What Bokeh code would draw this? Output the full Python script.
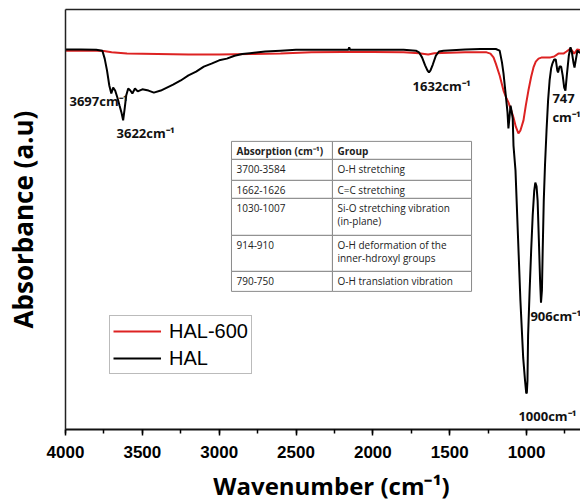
from bokeh.plotting import figure
from bokeh.layouts import column
from bokeh.models import (Range1d, SingleIntervalTicker, FixedTicker, LinearAxis,
                          Label, Legend, LegendItem)
from bokeh.embed import file_html
from bokeh.resources import INLINE
from bokeh.core.properties import value

# ---------------- data ----------------
hal_wn = [4000, 3900, 3800, 3760, 3745, 3730, 3715, 3702, 3690, 3677,
          3662, 3648, 3636, 3625, 3615, 3605, 3592, 3578, 3565, 3548,
          3530, 3500, 3460, 3425, 3380, 3340, 3300, 3250, 3200, 3150,
          3100, 3050, 3000, 2950, 2900, 2850, 2800, 2700, 2600, 2500,
          2300, 2160, 2154, 2148, 2000, 1800, 1720, 1700, 1680, 1660,
          1645, 1635, 1625, 1610, 1590, 1570, 1540, 1400, 1300, 1200,
          1175, 1160, 1150, 1135, 1124, 1118, 1110, 1104, 1096, 1090,
          1085, 1072, 1056, 1040, 1022, 1010, 1002, 998, 994, 990,
          980, 970, 960, 950, 943, 935, 928, 920, 912, 906,
          900, 895, 888, 880, 870, 860, 850, 840, 832, 820,
          810, 800, 795, 785, 775, 765, 755, 747, 738, 725,
          714, 705, 695, 688, 680, 669, 655, 640]
hal_abs = [90.5, 90.5, 90.4, 90.2, 88.3, 85.5, 81.9, 80.0, 81.4, 80.7,
           79.0, 77.1, 75.5, 73.6, 76.4, 79.5, 81.2, 80.7, 80.0, 81.2,
           80.5, 81.0, 80.7, 80.2, 80.7, 81.4, 82.1, 83.1, 84.3, 85.2,
           86.4, 87.1, 87.9, 88.3, 89.0, 89.4, 89.6, 90.0, 90.2, 90.4,
           90.4, 90.4, 91.0, 90.4, 90.4, 90.4, 90.2, 89.8, 88.6, 86.7,
           85.5, 85.0, 85.5, 86.9, 89.0, 90.0, 90.2, 90.5, 90.6, 90.6,
           90.2, 87.4, 84.8, 79.5, 75.5, 71.7, 74.8, 77.1, 75.5, 74.0,
           67.6, 61.7, 46.2, 30.7, 17.1, 11.7, 8.6, 8.8, 11.7, 22.4,
           33.1, 42.6, 51.0, 56.9, 58.8, 57.9, 54.5, 45.2, 35.5, 30.2,
           33.1, 42.6, 54.5, 62.9, 71.2, 78.3, 83.1, 86.0, 87.1, 88.1,
           88.1, 85.5, 85.0, 86.4, 86.4, 84.3, 81.4, 80.7, 84.3, 89.0,
           91.0, 89.8, 87.4, 86.2, 87.9, 90.2, 89.8, 89.3]

hal600_wn = [4000, 3800, 3750, 3700, 3600, 3400, 3200, 3000, 2800, 2600,
             2400, 2200, 2000, 1800, 1700, 1640, 1600, 1400, 1260, 1235,
             1215, 1200, 1175, 1150, 1130, 1118, 1100, 1085, 1070, 1053,
             1040, 1020, 1005, 988, 970, 955, 940, 922, 900, 845,
             820, 793, 760, 740, 714, 690, 670, 640]
hal600_abs = [90.2, 90.2, 90.1, 89.8, 89.5, 89.4, 89.3, 89.3, 89.4, 89.5,
              89.8, 89.9, 89.9, 89.8, 89.6, 89.3, 89.6, 89.8, 89.8, 89.5,
              88.6, 87.1, 84.3, 80.7, 78.8, 77.9, 76.0, 74.3, 72.1, 70.5,
              71.2, 73.6, 77.1, 80.7, 84.0, 86.2, 87.6, 88.3, 88.6, 88.6,
              88.8, 89.5, 89.5, 90.0, 90.7, 89.5, 90.5, 90.2]

series_names = ["HAL-600", "HAL"]

table_absorption = ["Absorption (cm\u207b\u00b9)", "3700-3584", "1662-1626",
                    "1030-1007", "914-910", "790-750"]
table_group = ["Group", "O-H stretching", "C=C stretching",
               "Si-O stretching vibration\n(in-plane)",
               "O-H deformation of the\ninner-hdroxyl groups",
               "O-H translation vibration"]

x_title = "Wavenumber (cm\u207b\u00b9)"
y_title = "Absorbance (a.u)"

# ---------------- main figure ----------------
X_START, X_END = 4000, 649
MAIN_H, TITLE_H, W = 466, 36, 580
p = figure(width=W, height=MAIN_H, output_backend="svg", toolbar_location=None,
           x_range=Range1d(X_START, X_END), y_range=Range1d(0, 100),
           min_border_left=65, min_border_right=0, min_border_top=9,
           min_border_bottom=37, background_fill_color="white",
           border_fill_color="white")
p.outline_line_color = None
p.xgrid.visible = False
p.ygrid.visible = False

FONT = "Open Sans"
TICK_FONT = "Liberation Sans"
RED = "#dd2222"

r_red = p.line(hal600_wn, hal600_abs, line_color=RED, line_width=2)
r_black = p.line(hal_wn, hal_abs, line_color="black", line_width=2)

DX = (X_START - X_END) / 515.0   # wavenumber units per pixel
DY = 100.0 / 420.0               # absorbance units per pixel

# x axis
xa = p.xaxis[0]
xa.ticker = SingleIntervalTicker(interval=500, num_minor_ticks=2)
xa.axis_line_width = 2
xa.axis_line_color = "#111111"
xa.major_tick_out = 6
xa.major_tick_in = 0
xa.minor_tick_out = 4
xa.minor_tick_in = 0
xa.major_tick_line_width = 1.5
xa.minor_tick_line_width = 1.5
xa.major_label_text_font = TICK_FONT
xa.major_label_text_font_style = "bold"
xa.major_label_text_font_size = "17px"
xa.major_label_text_color = "black"
xa.major_label_standoff = 10

# y axis
ya = p.yaxis[0]
ya.ticker = FixedTicker(ticks=[])
ya.major_label_text_font_size = "0px"
ya.major_tick_out = 0
ya.minor_tick_out = 0
ya.axis_line_width = 1.5
ya.axis_line_color = "#222222"
ya.axis_label = y_title
ya.axis_label_text_font = FONT
ya.axis_label_text_font_style = "bold"
ya.axis_label_text_font_size = "26px"
ya.axis_label_text_color = "black"
ya.axis_label_standoff = 25

# top border as an empty axis
top = LinearAxis(ticker=FixedTicker(ticks=[]), major_label_text_font_size="0px",
                 major_tick_out=0, minor_tick_out=0, axis_line_width=1.5,
                 axis_line_color="#222222")
p.add_layout(top, "above")

# peak labels
def peak(x, y, t, size="13px"):
    p.add_layout(Label(x=x, y=y, text=t, text_font=FONT, text_font_style="bold",
                       text_font_size=size, text_baseline="middle",
                       text_align="left", text_color="#111111"))

peak(3974, 78.3, "3697cm\u207b\u00b9")
peak(3668, 70.5, "3622cm\u207b\u00b9")
peak(1742, 81.7, "1632cm\u207b\u00b9")
peak(832, 78.8, "747")
peak(832, 74.3, "cm\u207b\u00b9")
peak(975, 27.1, "906cm\u207b\u00b9")
peak(1053, 3.3, "1000cm\u207b\u00b9")

# table
T_LEFT, T_DIV, T_RIGHT, T_TOP = 2920, 2263, 1358, 68.6
row_px = [18, 21, 18, 37, 36, 20]

q_left, q_right, q_top, q_bot = [], [], [], []
y_cur = T_TOP
row_tops = []
for h in row_px:
    y_next = y_cur - h * DY
    row_tops.append(y_cur)
    for (a, b) in [(T_LEFT, T_DIV), (T_DIV, T_RIGHT)]:
        q_left.append(a); q_right.append(b)
        q_top.append(y_cur); q_bot.append(y_next)
    y_cur = y_next
p.quad(left=q_left, right=q_right, top=q_top, bottom=q_bot,
       fill_color="white", line_color="#8a8a8a", line_width=1)

tx, ty, tt, hx, hy, ht = [], [], [], [], [], []
for i, (c1, c2) in enumerate(zip(table_absorption, table_group)):
    for col_x, txt in [(T_LEFT - 5 * DX, c1), (T_DIV - 5 * DX, c2)]:
        for j, line in enumerate(txt.split("\n")):
            yy = row_tops[i] - (9.5 + 13 * j) * DY
            if i == 0:
                hx.append(col_x); hy.append(yy); ht.append(line)
            else:
                tx.append(col_x); ty.append(yy); tt.append(line)
p.text(x=tx, y=ty, text=tt, text_font=value(FONT), text_font_size="10px",
       text_baseline="middle", text_align="left", text_color="#222222")
p.text(x=hx, y=hy, text=ht, text_font=value(FONT), text_font_size="10px",
       text_font_style="bold", text_baseline="middle", text_align="left",
       text_color="#222222")

# legend
legend = Legend(items=[LegendItem(label=series_names[0], renderers=[r_red]),
                       LegendItem(label=series_names[1], renderers=[r_black])],
                location=(44, 55), orientation="vertical",
                label_text_font="Liberation Sans", label_text_font_size="20px",
                label_text_color="black", glyph_width=48, glyph_height=24,
                label_height=24, label_standoff=8, spacing=3, padding=3,
                margin=0, border_line_color="#777777", border_line_width=1,
                background_fill_color="white", background_fill_alpha=1)
p.add_layout(legend)

# ---------------- x-axis title strip (shares the wavenumber scale) ----------------
pt = figure(width=W, height=TITLE_H, output_backend="svg", toolbar_location=None,
            x_range=Range1d(X_START, X_END), y_range=Range1d(0, TITLE_H),
            x_axis_type=None, y_axis_type=None, min_border_left=65,
            min_border_right=0, min_border_top=0, min_border_bottom=0,
            background_fill_color="white", border_fill_color="white")
pt.outline_line_color = None
pt.xgrid.visible = False
pt.ygrid.visible = False
pt.text(x=[X_START - 266 * DX], y=[17], text=[x_title], text_font=value(FONT),
        text_font_style="bold", text_font_size="24px", text_align="center",
        text_baseline="middle", text_color="black")

layout = column(p, pt, spacing=0)
open("out.html", "w").write(file_html(layout, INLINE))
